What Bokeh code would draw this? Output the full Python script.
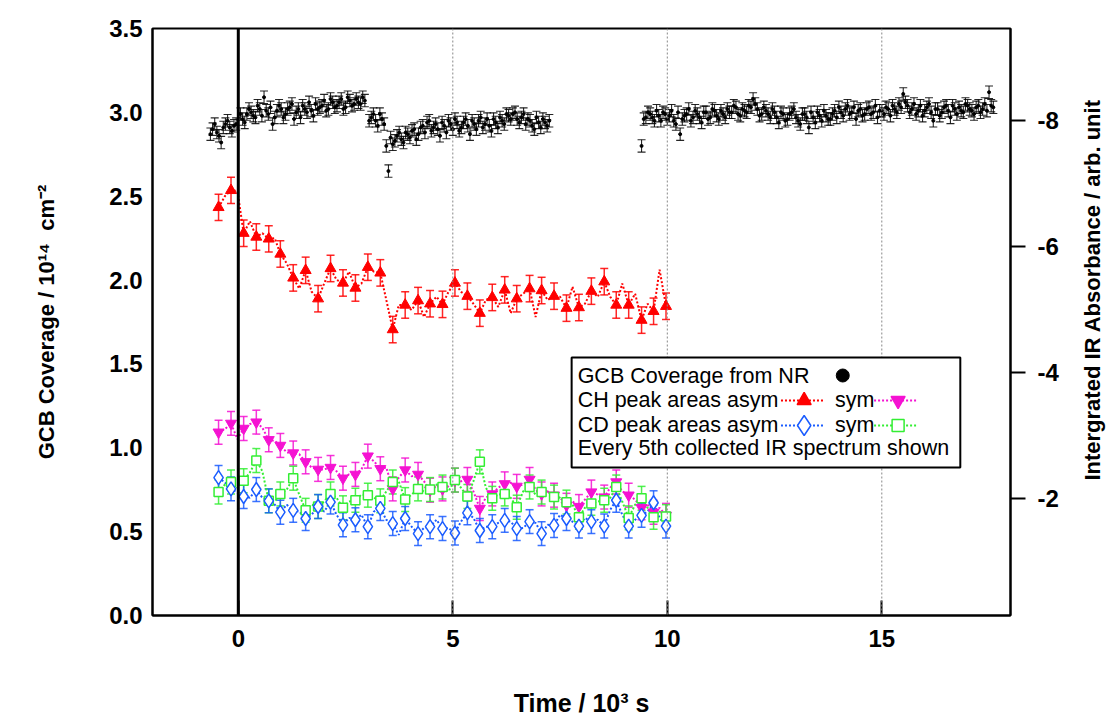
import numpy as np
from bokeh.plotting import figure
from bokeh.layouts import row
from bokeh.models import (Range1d, LinearAxis, FixedTicker, Span, Whisker, TeeHead,
                          ColumnDataSource, BoxAnnotation, Label, NumeralTickFormatter)
from bokeh.embed import file_html
from bokeh.resources import INLINE

# ---------------- data ----------------
# GCB coverage from NR (10^14 cm^-2) vs time (10^3 s)
nr_time_a = [-0.65, -0.6, -0.55, -0.5, -0.45, -0.4, -0.35, -0.3, -0.25, -0.2, -0.15, -0.1, -0.05,
             0.05, 0.1, 0.15, 0.2, 0.25, 0.3, 0.35, 0.4, 0.45, 0.5, 0.55, 0.6, 0.65, 0.7, 0.75, 0.8,
             0.85, 0.9, 0.95, 1.0, 1.05, 1.1, 1.15, 1.2, 1.25, 1.3, 1.35, 1.4, 1.45, 1.5, 1.55, 1.6,
             1.65, 1.7, 1.75, 1.8, 1.85, 1.9, 1.95, 2.0, 2.05, 2.1, 2.15, 2.2, 2.25, 2.3, 2.35, 2.4,
             2.45, 2.5, 2.55, 2.6, 2.65, 2.7, 2.75, 2.8, 2.85, 2.9, 2.95]
nr_cov_a = [2.87, 2.90, 2.93, 2.88, 2.86, 2.82, 2.91, 2.93, 2.95, 2.91, 2.89, 2.92, 2.93,
            2.99, 2.96, 2.94, 2.99, 3.02, 3.00, 2.98, 2.97, 3.04, 3.02, 2.98, 3.09, 3.01, 2.99, 3.03, 2.93,
            2.97, 3.01, 3.04, 3.02, 2.97, 2.99, 3.02, 3.03, 3.05, 2.96, 3.00, 3.02, 2.97, 3.04, 3.02, 3.00,
            3.06, 3.01, 2.98, 3.05, 3.02, 3.03, 3.04, 3.07, 3.01, 3.02, 3.08, 3.06, 3.03, 3.04, 3.06, 3.08,
            3.02, 3.03, 3.09, 3.07, 3.04, 3.05, 3.08, 3.06, 3.05, 3.09, 3.07]
nr_time_b = [3.05, 3.1, 3.15, 3.2, 3.25, 3.3, 3.35, 3.4, 3.45, 3.5, 3.55, 3.6, 3.65, 3.7, 3.75, 3.8,
             3.85, 3.9, 3.95, 4.0, 4.05, 4.1, 4.15, 4.2, 4.25, 4.3, 4.35, 4.4, 4.45, 4.5, 4.55, 4.6,
             4.65, 4.7, 4.75, 4.8, 4.85, 4.9, 4.95, 5.0, 5.05, 5.1, 5.15, 5.2, 5.25, 5.3, 5.35, 5.4,
             5.45, 5.5, 5.55, 5.6, 5.65, 5.7, 5.75, 5.8, 5.85, 5.9, 5.95, 6.0, 6.05, 6.1, 6.15, 6.2,
             6.25, 6.3, 6.35, 6.4, 6.45, 6.5, 6.55, 6.6, 6.65, 6.7, 6.75, 6.8, 6.85, 6.9, 6.95, 7.0,
             7.05, 7.1, 7.15, 7.2, 7.25]
nr_cov_b = [2.95, 2.97, 2.99, 2.95, 2.92, 2.99, 2.96, 2.93, 2.80, 2.65, 2.85, 2.81, 2.83, 2.86, 2.88, 2.84,
            2.82, 2.88, 2.87, 2.85, 2.89, 2.90, 2.84, 2.87, 2.91, 2.92, 2.88, 2.94, 2.95, 2.89, 2.91, 2.93,
            2.90, 2.86, 2.94, 2.92, 2.88, 2.95, 2.93, 2.90, 2.96, 2.94, 2.89, 2.91, 2.94, 2.96, 2.92, 2.87,
            2.95, 2.93, 2.90, 2.95, 2.97, 2.91, 2.93, 2.96, 2.92, 2.89, 2.96, 2.94, 2.91, 2.97, 2.95, 2.93,
            2.99, 2.98, 2.96, 2.99, 3.00, 2.96, 2.94, 2.97, 2.99, 2.93, 2.96, 2.95, 2.92, 2.90, 2.97, 2.94,
            2.91, 2.96, 2.94, 2.92, 2.95]
nr_time_c = [9.4, 9.45, 9.5, 9.55, 9.6, 9.65, 9.7, 9.75, 9.8, 9.85, 9.9, 9.95, 10.0, 10.05, 10.1, 10.15,
             10.2, 10.25, 10.3, 10.35, 10.4, 10.45, 10.5, 10.55, 10.6, 10.65, 10.7, 10.75, 10.8, 10.85,
             10.9, 10.95, 11.0, 11.05, 11.1, 11.15, 11.2, 11.25, 11.3, 11.35, 11.4, 11.45, 11.5, 11.55,
             11.6, 11.65, 11.7, 11.75, 11.8, 11.85, 11.9, 11.95, 12.0, 12.05, 12.1, 12.15, 12.2, 12.25,
             12.3, 12.35, 12.4, 12.45, 12.5, 12.55, 12.6, 12.65, 12.7, 12.75, 12.8, 12.85, 12.9, 12.95,
             13.0, 13.05, 13.1, 13.15, 13.2, 13.25, 13.3, 13.35, 13.4, 13.45, 13.5, 13.55, 13.6, 13.65,
             13.7, 13.75, 13.8, 13.85, 13.9, 13.95, 14.0, 14.05, 14.1, 14.15, 14.2, 14.25, 14.3, 14.35,
             14.4, 14.45, 14.5, 14.55, 14.6, 14.65, 14.7, 14.75, 14.8, 14.85, 14.9, 14.95, 15.0, 15.05,
             15.1, 15.15, 15.2, 15.25, 15.3, 15.35, 15.4, 15.45, 15.5, 15.55, 15.6, 15.65, 15.7, 15.75,
             15.8, 15.85, 15.9, 15.95, 16.0, 16.05, 16.1, 16.15, 16.2, 16.25, 16.3, 16.35, 16.4, 16.45,
             16.5, 16.55, 16.6, 16.65, 16.7, 16.75, 16.8, 16.85, 16.9, 16.95, 17.0, 17.05, 17.1, 17.15,
             17.2, 17.25, 17.3, 17.35, 17.4, 17.45, 17.5, 17.55, 17.6]
nr_cov_c = [2.80, 2.96, 2.97, 3.00, 2.99, 2.97, 2.95, 3.01, 2.98, 2.95, 3.00, 2.99, 2.96, 2.98, 3.01, 2.95,
            2.93, 3.00, 2.87, 2.96, 2.98, 2.99, 3.02, 2.95, 2.97, 3.01, 2.99, 2.97, 2.94, 3.00,
            3.00, 2.96, 2.97, 3.02, 3.01, 2.98, 2.96, 3.01, 2.99, 2.97, 3.02, 3.00, 3.00, 3.04,
            3.03, 2.99, 2.98, 3.02, 3.01, 3.00, 3.04, 3.03, 3.08, 3.05, 3.02, 2.98, 2.99, 3.03,
            3.01, 2.99, 2.97, 3.02, 3.00, 2.97, 2.94, 3.00, 2.99, 2.95, 2.96, 2.99, 3.00, 3.02,
            2.97, 2.95, 2.93, 2.99, 2.99, 2.97, 2.91, 3.00, 2.97, 2.94, 3.00, 2.98, 2.95, 3.01,
            2.98, 2.96, 2.96, 2.99, 3.01, 2.97, 3.03, 3.00, 2.98, 3.02, 3.04, 2.99, 3.00, 3.03,
            2.96, 3.01, 3.02, 2.98, 2.99, 3.02, 3.03, 2.99, 3.00, 3.04, 2.97, 3.01, 3.01, 2.99,
            3.03, 3.02, 2.98, 3.04, 3.02, 3.00, 3.05, 3.03, 3.11, 3.06, 3.04, 3.00, 3.02, 3.05,
            2.99, 3.01, 3.04, 2.98, 3.01, 3.03, 3.05, 3.00, 2.95, 3.02, 3.02, 2.98, 3.00, 3.03,
            3.04, 3.01, 2.97, 3.04, 3.02, 2.99, 3.03, 3.01, 3.00, 3.05, 3.04, 3.02, 3.01, 2.99,
            3.03, 3.04, 3.00, 3.02, 3.05, 3.01, 3.12, 3.04, 3.03]
nr_err = 0.037

# Integrated IR absorbance (arb. unit), every 5th spectrum (markers)
ir_time = [-0.46, -0.17, 0.125, 0.42, 0.71, 0.98, 1.28, 1.57, 1.86, 2.15, 2.44, 2.73, 3.02, 3.31,
           3.60, 3.89, 4.19, 4.47, 4.76, 5.05, 5.34, 5.63, 5.92, 6.21, 6.49, 6.79, 7.07, 7.36,
           7.65, 7.94, 8.23, 8.53, 8.81, 9.10, 9.40, 9.68, 9.97]
ch_asym = [-6.62, -6.89, -6.21, -6.15, -6.12, -5.88, -5.50, -5.62, -5.17, -5.65, -5.42, -5.34, -5.67,
           -5.58, -4.68, -5.07, -5.14, -5.09, -5.08, -5.42, -5.21, -4.94, -5.19, -5.31, -5.17, -5.33,
           -5.30, -5.21, -5.02, -5.03, -5.29, -5.44, -5.07, -5.07, -4.83, -4.97, -5.05]
ch_sym = [-3.05, -3.19, -3.11, -3.21, -2.93, -2.84, -2.72, -2.58, -2.46, -2.49, -2.32, -2.38, -2.67,
          -2.47, -2.15, -2.45, -2.38, -2.13, -2.15, -2.29, -2.30, -1.84, -2.07, -2.23, -2.19, -2.30,
          -2.07, -2.05, -1.89, -1.87, -2.10, -2.02, -2.26, -2.05, -1.85, -1.78, -1.73]
cd_asym = [-2.33, -2.15, -2.03, -2.14, -1.96, -1.78, -1.81, -1.68, -1.87, -1.94, -1.58, -1.66, -1.55,
           -1.84, -1.60, -1.68, -1.44, -1.55, -1.52, -1.45, -1.77, -1.49, -1.55, -1.65, -1.52, -1.63,
           -1.44, -1.57, -1.68, -1.56, -1.63, -1.56, -1.97, -1.56, -1.73, -1.93, -1.56]
cd_sym = [-2.10, -2.26, -2.28, -2.60, -1.96, -2.07, -2.32, -1.81, -1.87, -2.07, -1.85, -1.97, -2.05,
          -1.96, -2.26, -1.98, -2.15, -2.14, -2.18, -2.29, -2.03, -2.58, -2.00, -2.07, -1.86, -2.18,
          -2.10, -2.02, -1.94, -1.70, -1.92, -1.97, -2.18, -1.69, -2.00, -1.70, -1.71]
ch_asym_err = 0.21
ch_sym_err = 0.19
cd_asym_err = 0.19
cd_sym_err = 0.19

# intermediate spectra (not marked) drawn by the dotted lines
ir_mid_time = [-0.31, -0.02, 0.27, 0.56, 0.85, 1.13, 1.42, 1.71, 2.00, 2.29, 2.58, 2.87, 3.16, 3.45,
               3.74, 4.04, 4.33, 4.62, 4.90, 5.19, 5.48, 5.77, 6.06, 6.35, 6.64, 6.93, 7.21, 7.50,
               7.79, 8.08, 8.38, 8.67, 8.95, 9.25, 9.54, 9.82]
ch_asym_mid = [-6.80, -6.88, -6.40, -6.21, -6.13, -5.73, -5.33, -5.28, -5.41, -5.47, -5.60, -5.41,
               -5.60, -5.15, -5.07, -4.99, -4.88, -5.20, -5.28, -5.28, -5.09, -5.15, -5.04, -4.94,
               -5.25, -4.88, -5.15, -5.20, -5.36, -5.09, -5.20, -5.20, -5.41, -5.25, -5.09, -5.63]
ch_sym_mid = [-3.10, -2.94, -3.18, -3.12, -2.91, -2.73, -2.70, -2.49, -2.46, -2.43, -2.38, -2.46,
              -2.59, -2.49, -2.33, -2.35, -2.27, -2.22, -2.19, -2.27, -2.11, -2.01, -2.17, -2.25,
              -2.22, -2.14, -2.11, -2.01, -1.95, -1.98, -2.06, -2.17, -2.11, -1.98, -1.90, -1.85]
cd_asym_mid = [-2.25, -2.09, -2.01, -2.01, -1.90, -1.90, -1.79, -1.74, -1.79, -1.74, -1.69, -1.74,
               -1.79, -1.66, -1.42, -1.55, -1.53, -1.66, -1.53, -1.63, -1.69, -1.55, -1.61, -1.63,
               -1.53, -1.61, -1.58, -1.74, -1.63, -1.69, -1.66, -1.82, -1.74, -1.66, -1.79, -1.69]
cd_sym_mid = [-2.22, -2.17, -2.41, -2.43, -1.95, -2.14, -2.06, -1.90, -1.95, -2.01, -1.95, -2.06,
              -2.01, -2.11, -2.27, -2.06, -2.11, -2.22, -2.11, -2.17, -2.27, -2.17, -2.06, -2.01,
              -2.11, -2.06, -2.11, -2.01, -1.90, -1.85, -1.95, -2.01, -1.95, -1.90, -1.85, -1.79]

y_ticks = [0.0, 0.5, 1.0, 1.5, 2.0, 2.5, 3.0, 3.5]
ir_ticks = [-8, -6, -4, -2]
x_ticks = [0, 5, 10, 15]

# ---------------- styling ----------------
RED = "#FF0000"
MAG = "#F512D2"
BLUE = "#1A5CFF"
GREEN = "#33EE33"
FONT = "Liberation Sans"
NB = "\u00a0"
H = 722

p = figure(width=1064, height=H, x_range=Range1d(-2.0, 18.0), y_range=Range1d(0.0, 3.5),
           output_backend="svg", toolbar_location=None,
           min_border_left=152, min_border_right=54, min_border_top=28, min_border_bottom=107)
p.extra_y_ranges = {"ir": Range1d(start=-0.14, end=-9.46)}
p.grid.visible = False
p.outline_line_color = "black"
p.outline_line_width = 2
p.background_fill_color = "white"
p.border_fill_color = "white"


def style_axis(ax, size="24px"):
    ax.axis_label_text_font = FONT
    ax.axis_label_text_font_style = "bold"
    ax.axis_label_text_color = "black"
    ax.major_label_text_font = FONT
    ax.major_label_text_font_style = "bold"
    ax.major_label_text_color = "black"
    ax.major_label_text_font_size = size
    ax.axis_line_width = 2
    ax.axis_line_color = "black"
    ax.major_tick_line_color = "black"
    ax.major_tick_line_width = 2
    ax.minor_tick_out = 0
    ax.minor_tick_in = 0


# left axis
ya = p.yaxis[0]
style_axis(ya)
ya.ticker = FixedTicker(ticks=y_ticks)
ya.formatter = NumeralTickFormatter(format="0.0")
ya.axis_label = "GCB Coverage / 10¹⁴" + NB + NB + "cm⁻²"
ya.axis_label_text_font_size = "22px"
ya.axis_label_standoff = 47
ya.major_label_standoff = 10
ya.major_tick_out = 0
ya.major_tick_in = 0

# bottom axis
xa = p.xaxis[0]
style_axis(xa, "24px")
xa.ticker = FixedTicker(ticks=x_ticks)
xa.axis_label = "Time / 10³ s"
xa.axis_label_text_font_size = "25px"
xa.axis_label_standoff = 39
xa.major_label_standoff = 14
xa.major_tick_out = 0
xa.major_tick_in = 15

# right axis (ticks and tick labels; its title is drawn in the strip beside it)
ra = LinearAxis(y_range_name="ir", ticker=FixedTicker(ticks=ir_ticks),
                formatter=NumeralTickFormatter(format="0"))
style_axis(ra)
ra.major_label_standoff = 12
ra.major_tick_out = 15
ra.major_tick_in = 0
p.add_layout(ra, "right")

# reference lines
for xt in x_ticks[1:]:
    p.add_layout(Span(location=xt, dimension="height", line_color="#888888",
                      line_width=1, line_dash="2 2"))
p.add_layout(Span(location=0, dimension="height", line_color="black", line_width=3))


def whiskers(t, v, err, color, width, head, yname="default"):
    v = np.asarray(v, dtype=float)
    src = ColumnDataSource(dict(t=t, lo=v - err, hi=v + err))
    w = Whisker(source=src, base="t", lower="lo", upper="hi", dimension="height",
                line_color=color, line_width=width, line_alpha=0.85,
                upper_head=TeeHead(size=head, line_color=color, line_width=width, line_alpha=0.85),
                lower_head=TeeHead(size=head, line_color=color, line_width=width, line_alpha=0.85))
    if yname != "default":
        w.y_range_name = yname
    p.add_layout(w)


# IR series: dotted line through all spectra + markers every 5th
series = [
    (ch_asym, ch_asym_mid, ch_asym_err, RED, "triangle", 11, True),
    (ch_sym, ch_sym_mid, ch_sym_err, MAG, "inverted_triangle", 11, True),
    (cd_sym, cd_sym_mid, cd_sym_err, GREEN, "square", 9, False),
    (cd_asym, cd_asym_mid, cd_asym_err, BLUE, "diamond", 14, False),
]
for vals, mids, err, col, mk, sz, filled in series:
    lt = np.empty(len(ir_time) + len(ir_mid_time))
    lv = np.empty_like(lt)
    lt[0::2] = ir_time
    lt[1::2] = ir_mid_time
    lv[0::2] = vals
    lv[1::2] = mids
    p.line(lt, lv, y_range_name="ir", line_color=col, line_width=2, line_dash="2 2")
for vals, mids, err, col, mk, sz, filled in series:
    whiskers(ir_time, vals, err, col, 1.5, 8, "ir")
    if filled:
        p.scatter(ir_time, vals, y_range_name="ir", marker=mk, size=sz,
                  fill_color=col, line_color=col)
    else:
        p.scatter(ir_time, vals, y_range_name="ir", marker=mk, size=sz,
                  fill_color="white", line_color=col, line_width=1.5)

# NR coverage
for t, v in [(nr_time_a, nr_cov_a), (nr_time_b, nr_cov_b), (nr_time_c, nr_cov_c)]:
    whiskers(t, v, nr_err, "black", 1.1, 8)
    p.scatter(t, v, marker="circle", size=3, fill_color="black", line_color="black")

# ---------------- legend (drawn box) ----------------
p.add_layout(BoxAnnotation(left=7.77, right=16.83, bottom=0.883, top=1.538,
                           fill_color="white", fill_alpha=1.0,
                           line_color="black", line_width=2, line_alpha=1.0))
rows_y = [1.431, 1.282, 1.133, 0.996]
texts = ["GCB Coverage from NR", "CH peak areas asym", "CD peak areas asym",
         "Every 5th collected IR spectrum shown"]
for ty, tx in zip(rows_y, texts):
    p.add_layout(Label(x=7.91, y=ty, text=tx, text_font=FONT, text_font_size="21.5px",
                       text_baseline="middle", text_align="left", text_color="black"))
for ty in rows_y[1:3]:
    p.add_layout(Label(x=13.91, y=ty, text="sym", text_font=FONT, text_font_size="21.5px",
                       text_baseline="middle", text_align="left", text_color="black"))

p.scatter([14.09], [rows_y[0]], marker="circle", size=13, fill_color="black",
          line_color="black", level="overlay")
leg = [(12.65, 13.66, 13.19, rows_y[1], RED, "triangle", 14, True),
       (14.82, 15.83, 15.38, rows_y[1], MAG, "inverted_triangle", 14, True),
       (12.65, 13.66, 13.19, rows_y[2], BLUE, "diamond", 20, False),
       (14.82, 15.83, 15.38, rows_y[2], GREEN, "square", 12, False)]
for x0, x1, xm, ym, col, mk, sz, filled in leg:
    p.line([x0, x1], [ym, ym], line_color=col, line_width=2, line_dash="2 2", level="overlay")
    p.scatter([xm], [ym], marker=mk, size=sz, line_color=col, line_width=1.5,
              fill_color=col if filled else "white", level="overlay")

# ---------------- right-axis title strip (reads bottom-to-top) ----------------
STRIP_W = 46
t = figure(width=STRIP_W, height=H, x_range=Range1d(0, STRIP_W), y_range=Range1d(0, H),
           output_backend="svg", toolbar_location=None, x_axis_type=None, y_axis_type=None,
           min_border=0, min_border_left=0, min_border_right=0, min_border_top=0,
           min_border_bottom=0)
t.grid.visible = False
t.outline_line_color = None
t.background_fill_color = "white"
t.border_fill_color = "white"
t.add_layout(Label(x=28, y=H - 321.5, text="Intergrated IR Absorbance / arb. unit",
                   angle=np.pi / 2, text_font=FONT, text_font_style="bold",
                   text_font_size="22px", text_align="center", text_baseline="middle",
                   text_color="black"))

layout = row(p, t, spacing=0)
open("out.html", "w").write(file_html(layout, INLINE))
